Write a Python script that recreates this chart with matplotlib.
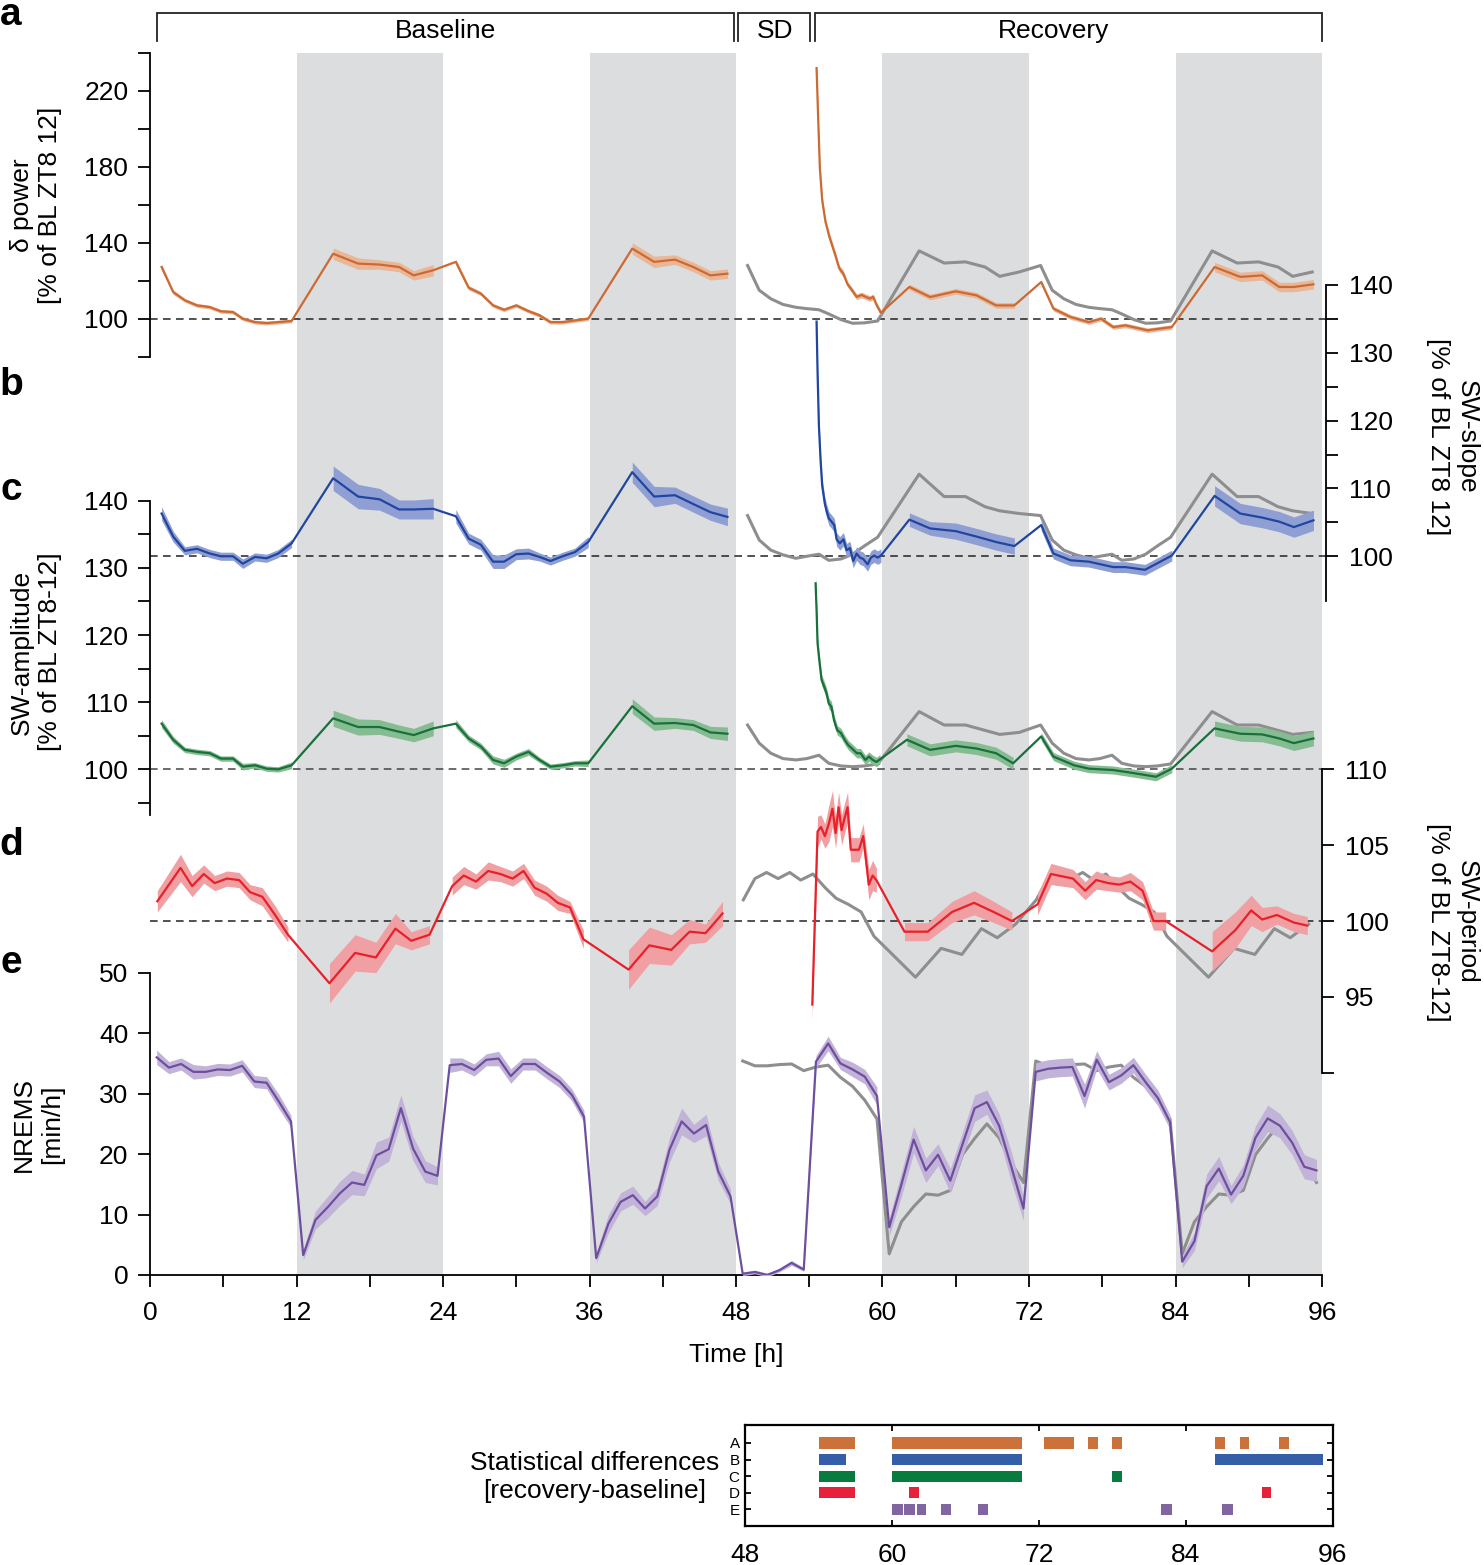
import matplotlib.pyplot as plt
import numpy as np

plt.rcParams['font.family'] = ['Liberation Sans', 'DejaVu Sans']

W, H = 1484, 1565

# ---------------- data ----------------
dark_phases = [(12, 24), (36, 48), (60, 72), (84, 96)]
periods = ['Baseline', 'SD', 'Recovery']
period_start = [0.6, 48.2, 54.5]
period_end = [47.8, 54.1, 96.0]
period_label_at = [24.2, 51.2, 74.0]

# baseline bins (delta power, SW-slope, SW-amplitude)
bl_hours = [0.95, 1.9, 2.85, 3.85, 4.9, 5.8, 6.8, 7.6, 8.6, 9.55, 10.5, 11.6,
            15.0, 17.05, 18.8, 20.4, 21.6, 23.2,
            25.05, 26.1, 27.1, 28.1, 29.0, 30.0, 31.0, 31.9, 32.8, 33.8, 34.8, 35.9,
            39.5, 41.3, 43.0, 44.5, 45.9, 47.3]

delta_bl = [127.2, 114.0, 109.7, 107.0, 106.1, 103.9, 103.5, 100.0, 98.2, 97.7, 98.2, 98.8,
            134.2, 129.0, 128.5, 127.2, 122.8, 125.5,
            129.9, 116.3, 113.2, 107.0, 104.7, 107.0, 104.0, 101.8, 98.2, 98.2, 99.1, 100.0,
            136.9, 129.9, 131.1, 127.2, 122.8, 123.7]
delta_bl_sem = [1.5, 1.2, 1.0, 1.0, 1.0, 1.0, 1.0, 1.0, 1.0, 1.0, 1.0, 1.0,
                3.0, 3.0, 2.5, 2.5, 2.5, 3.0,
                1.5, 1.2, 1.0, 1.0, 1.0, 1.0, 1.0, 1.0, 1.0, 1.0, 1.0, 1.0,
                3.0, 3.0, 2.5, 2.5, 2.5, 2.5]

slope_bl = [106.3, 102.9, 100.8, 101.1, 100.4, 100.0, 100.0, 98.9, 99.9, 99.7, 100.4, 101.9,
            111.5, 108.8, 108.4, 106.9, 106.9, 107.0,
            105.9, 102.6, 101.7, 99.2, 99.2, 100.3, 100.4, 99.9, 99.3, 100.0, 100.6, 102.1,
            112.4, 108.8, 109.0, 107.7, 106.5, 105.8]
slope_bl_sem = [1.0, 0.8, 0.6, 0.6, 0.6, 0.6, 0.6, 0.7, 0.6, 0.6, 0.6, 0.6,
                1.8, 1.8, 1.6, 1.4, 1.4, 1.5,
                1.0, 0.8, 0.8, 1.0, 1.0, 0.8, 0.8, 0.6, 0.6, 0.6, 0.6, 0.8,
                1.5, 1.5, 1.2, 1.2, 1.2, 1.3]

amp_bl = [106.8, 104.4, 102.9, 102.6, 102.4, 101.6, 101.6, 100.4, 100.6, 100.1, 100.0, 100.6,
          107.6, 106.3, 106.3, 105.6, 105.1, 106.1,
          106.8, 104.6, 103.4, 101.4, 100.9, 101.9, 102.6, 101.4, 100.4, 100.6, 100.9, 100.9,
          109.4, 106.8, 106.9, 106.6, 105.5, 105.3]
amp_bl_sem = [0.6, 0.5, 0.4, 0.4, 0.4, 0.4, 0.4, 0.5, 0.4, 0.4, 0.4, 0.5,
              1.2, 1.2, 1.1, 1.0, 1.0, 1.1,
              0.6, 0.5, 0.5, 0.6, 0.6, 0.5, 0.5, 0.4, 0.4, 0.4, 0.4, 0.5,
              1.1, 1.0, 0.8, 0.8, 0.9, 1.0]

# baseline mean 24-h profile (grey, replotted over the two recovery days)
delta_ref = [128.0, 115.0, 110.5, 107.5, 106.0, 105.3, 104.7, 102.5, 99.5, 97.6, 97.8, 98.8,
             135.7, 129.3, 129.9, 127.2, 122.3, 124.6]
slope_ref = [106.0, 102.4, 100.9, 100.2, 99.7, 100.0, 100.3, 99.4, 99.6, 100.3, 101.5, 102.8,
             112.1, 108.8, 108.8, 107.3, 106.7, 106.3]
amp_ref = [106.6, 103.9, 102.4, 101.6, 101.4, 101.6, 102.1, 100.9, 100.5, 100.4, 100.5, 100.8,
           108.6, 106.6, 106.6, 105.8, 105.2, 105.5]

# recovery (after SD)
delta_rec_h = [54.6, 54.74, 54.87, 55.06, 55.33, 55.63, 55.82, 56.1, 56.45, 56.78, 57.14, 57.47,
               57.88, 58.29, 58.62, 58.97, 59.24, 59.5, 59.87,
               62.2, 63.9, 66.0, 67.7, 69.3, 70.8,
               73.0, 74.0, 75.4, 76.9, 77.9, 78.9, 79.9, 81.7, 83.7,
               87.2, 89.3, 91.1, 92.5, 93.7, 95.3]
delta_rec = [231.9, 203.7, 179.2, 162.3, 151.0, 143.5, 139.7, 134.1, 126.6, 123.8, 118.1, 115.3,
             111.5, 112.5, 111.5, 110.6, 111.5, 107.4, 103.1,
             116.7, 111.4, 114.4, 112.3, 107.0, 107.0,
             119.3, 105.3, 100.9, 98.2, 100.0, 95.6, 96.5, 93.9, 95.6,
             127.2, 122.0, 122.8, 116.7, 116.7, 118.1]
delta_rec_sem = [3.0, 3.0, 2.5, 2.5, 2.0, 2.0, 2.0, 2.0, 1.8, 1.8, 1.5, 1.5,
                 1.5, 1.5, 1.5, 1.5, 1.5, 1.5, 1.5,
                 1.5, 1.5, 1.5, 1.5, 1.5, 1.5,
                 1.2, 1.2, 1.2, 1.2, 1.2, 1.2, 1.2, 1.2, 1.2,
                 2.5, 2.5, 2.5, 2.5, 2.5, 2.5]

slope_rec_h = [54.6, 54.68, 54.79, 54.93, 55.06, 55.28, 55.42, 55.6, 55.83, 56.05, 56.24, 56.5,
               56.8, 57.06, 57.33, 57.6, 57.88, 58.15, 58.42, 58.78, 59.05, 59.32, 59.6, 59.87,
               62.2, 63.9, 66.0, 67.7, 69.3, 70.8,
               73.0, 74.0, 75.4, 76.9, 77.9, 78.9, 79.9, 81.5, 83.7,
               87.2, 89.3, 91.1, 92.5, 93.7, 95.3]
slope_rec = [134.6, 127.2, 119.3, 114.1, 110.4, 107.7, 106.7, 105.6, 105.1, 104.6, 102.5, 101.9,
             102.5, 100.9, 101.2, 99.3, 100.4, 99.8, 99.6, 98.8, 99.8, 100.1, 99.8, 100.1,
             105.4, 104.1, 103.7, 102.9, 102.1, 101.5,
             104.6, 100.4, 99.4, 99.2, 98.8, 98.4, 98.4, 98.0, 100.1,
             108.9, 106.3, 105.7, 105.1, 104.3, 105.3]
slope_rec_sem = [1.5, 1.2, 1.0, 1.0, 1.0, 1.0, 1.0, 1.0, 1.0, 1.0, 1.0, 1.0,
                 1.0, 1.0, 1.0, 1.0, 1.0, 1.0, 1.0, 1.0, 1.0, 1.0, 1.0, 1.0,
                 1.0, 1.0, 1.2, 1.2, 1.2, 1.2,
                 0.8, 0.8, 0.8, 0.8, 0.8, 0.8, 0.8, 0.8, 0.8,
                 1.5, 1.5, 1.5, 1.5, 1.5, 1.5]

amp_rec_h = [54.52, 54.6, 54.68, 54.82, 55.01, 55.23, 55.42, 55.6, 55.82, 56.03, 56.3, 56.6,
             56.9, 57.2, 57.5, 57.9, 58.2, 58.6, 58.9, 59.2, 59.5, 59.8,
             62.0, 63.9, 66.0, 67.7, 69.3, 70.7,
             73.0, 74.0, 75.7, 76.9, 78.9, 80.7, 82.4, 83.7,
             87.2, 89.3, 91.1, 92.5, 93.7, 95.3]
amp_rec = [127.7, 123.7, 118.8, 116.3, 113.3, 112.3, 111.3, 109.8, 109.3, 107.3, 105.8, 105.4,
           104.4, 103.6, 103.1, 102.4, 102.4, 101.4, 101.9, 101.4, 101.1, 101.5,
           104.4, 102.9, 103.5, 103.1, 102.4, 100.9,
           104.9, 101.9, 100.6, 100.1, 99.9, 99.4, 98.9, 100.1,
           106.1, 105.3, 105.2, 104.6, 103.9, 104.6]
amp_rec_sem = [1.2, 1.0, 0.9, 0.9, 0.8, 0.8, 0.8, 0.8, 0.8, 0.8, 0.7, 0.7,
               0.7, 0.7, 0.7, 0.7, 0.7, 0.7, 0.7, 0.7, 0.7, 0.7,
               0.9, 0.9, 0.9, 0.9, 0.9, 0.9,
               0.6, 0.6, 0.6, 0.6, 0.6, 0.6, 0.6, 0.6,
               1.1, 1.1, 1.1, 1.1, 1.1, 1.1]

# SW-period
period_bl_h = [0.6, 1.55, 2.5, 3.45, 4.4, 5.3, 6.3, 7.3, 8.2, 9.2, 10.25, 11.3,
               14.7, 16.8, 18.5, 20.1, 21.4, 22.9,
               24.75, 25.7, 26.7, 27.7, 28.7, 29.7, 30.6, 31.5, 32.5, 33.4, 34.4, 35.5,
               39.2, 40.9, 42.7, 44.2, 45.5, 46.9]
period_bl = [101.3, 102.4, 103.5, 102.3, 103.1, 102.5, 102.8, 102.7, 101.9, 101.6, 100.4, 99.1,
             95.9, 97.9, 97.6, 99.5, 98.7, 99.1,
             102.3, 103.0, 102.6, 103.3, 103.1, 102.8, 103.3, 102.2, 101.8, 101.2, 100.9, 98.8,
             96.8, 98.4, 98.1, 99.3, 99.2, 100.5]
period_bl_sem = [0.7, 0.8, 0.9, 0.7, 0.6, 0.5, 0.5, 0.5, 0.5, 0.6, 0.6, 0.5,
                 1.3, 1.2, 1.0, 1.0, 0.6, 0.6,
                 0.6, 0.6, 0.5, 0.6, 0.5, 0.5, 0.5, 0.5, 0.5, 0.5, 0.4, 0.6,
                 1.3, 1.2, 1.0, 0.8, 0.6, 0.8]
period_ref = [101.4, 102.8, 103.2, 102.8, 103.2, 102.7, 103.1, 102.2, 101.5, 101.1, 100.6, 99.0,
              96.3, 98.2, 97.8, 99.5, 98.9, 99.8]

period_rec_h = [54.25, 54.68, 54.96, 55.28, 55.6, 55.9, 56.16, 56.4, 56.65, 56.9, 57.14, 57.4,
                57.74, 58.07, 58.42, 58.88, 59.19, 59.5,
                61.8, 63.7, 65.7, 67.5, 69.1, 70.6,
                72.7, 73.8, 75.6, 76.6, 77.5, 78.5, 79.4, 80.3, 81.3, 82.2, 83.2,
                87.0, 88.9, 90.2, 91.1, 92.3, 93.7, 94.8]
period_rec = [94.5, 105.9, 106.2, 105.6, 106.4, 107.4, 105.8, 107.5, 106.0, 106.8, 107.5, 104.7,
              104.7, 104.7, 105.6, 102.4, 103.0, 102.7,
              99.3, 99.3, 100.6, 101.2, 100.6, 100.0,
              101.1, 103.1, 102.8, 102.0, 102.7, 102.5, 102.4, 102.6, 102.0, 100.0, 100.0,
              98.0, 99.4, 100.7, 100.1, 100.4, 99.9, 99.7]
period_rec_sem = [1.0, 1.0, 0.8, 0.8, 1.2, 1.2, 1.0, 1.0, 1.0, 1.0, 1.0, 0.8,
                  0.8, 0.8, 0.8, 1.0, 1.0, 0.8,
                  0.6, 0.6, 0.7, 0.8, 0.7, 0.6,
                  0.7, 0.7, 0.6, 0.6, 0.6, 0.5, 0.5, 0.6, 0.6, 0.6, 0.6,
                  1.3, 1.2, 1.0, 0.8, 0.6, 0.6, 0.6]

# NREMS per hour, hours 0..95
nrems = [36.0, 34.3, 34.9, 33.6, 33.6, 34.0, 33.9, 34.6, 32.0, 31.8, 28.7, 25.4,
         3.3, 9.1, 11.2, 13.5, 15.3, 14.9, 19.8, 20.8, 27.6, 20.9, 17.1, 16.4,
         34.7, 34.9, 33.9, 35.6, 35.8, 32.9, 34.9, 34.9, 33.4, 32.0, 29.8, 26.2,
         2.8, 8.5, 12.1, 13.2, 11.0, 13.0, 20.7, 25.4, 23.4, 24.8, 17.1, 13.0,
         0.2, 0.5, 0.0, 0.8, 2.0, 0.9, 35.3, 38.3, 35.0, 34.0, 32.8, 29.6,
         7.9, 15.0, 22.4, 17.3, 19.9, 15.6, 21.6, 27.6, 28.6, 24.7, 17.9, 11.0,
         33.6, 34.1, 34.3, 34.4, 29.6, 35.6, 31.9, 33.0, 34.7, 31.9, 29.3, 25.3,
         2.2, 5.6, 14.7, 17.6, 13.3, 16.4, 22.7, 25.9, 24.7, 21.9, 17.9, 17.3]
nrems_sem = [1.2, 1.0, 1.0, 1.2, 1.0, 1.0, 1.0, 1.0, 1.0, 1.0, 1.2, 1.0,
             0.8, 1.5, 1.8, 2.0, 2.0, 1.8, 2.2, 2.0, 2.2, 2.0, 1.8, 1.5,
             1.2, 1.0, 1.0, 1.0, 1.2, 1.2, 1.0, 1.0, 1.0, 1.0, 1.0, 1.0,
             0.8, 1.5, 1.5, 1.5, 1.2, 1.5, 2.0, 2.2, 1.5, 1.8, 1.5, 1.2,
             0.3, 0.3, 0.3, 0.3, 0.4, 0.3, 1.0, 1.2, 1.0, 1.2, 1.2, 1.5,
             1.5, 2.0, 2.2, 2.0, 1.8, 2.0, 2.0, 2.2, 2.0, 2.0, 2.5, 2.0,
             1.5, 1.5, 1.5, 1.5, 2.0, 1.5, 1.3, 1.3, 1.3, 1.3, 1.3, 1.2,
             1.0, 1.5, 2.0, 2.0, 1.5, 1.8, 2.0, 2.2, 2.0, 2.0, 2.0, 1.8]
nrems_ref = [35.4, 34.6, 34.6, 34.8, 34.9, 33.8, 34.4, 34.7, 32.7, 31.2, 28.9, 25.8,
             3.5, 8.8, 11.3, 13.4, 13.2, 14.0, 19.9, 22.6, 25.0, 22.7, 18.5, 15.3]

# statistical differences (recovery vs baseline), start/end hours per row
stat_rows = ['A', 'B', 'C', 'D', 'E']
stat_A = [(54.0, 57.0), (60.0, 70.6), (72.4, 74.9), (76.0, 76.8), (78.0, 78.8),
          (86.4, 87.2), (88.4, 89.2), (91.6, 92.4)]
stat_B = [(54.0, 56.2), (60.0, 70.6), (86.4, 95.2)]
stat_C = [(54.0, 57.0), (60.0, 70.6), (78.0, 78.8)]
stat_D = [(54.0, 57.0), (61.4, 62.2), (90.2, 91.0)]
stat_E = [(60.0, 60.85), (61.0, 61.85), (62.0, 62.8), (64.0, 64.85), (67.0, 67.8),
          (82.0, 82.85), (87.0, 87.85)]

# ---------------- style ----------------
C_ORANGE, B_ORANGE = '#cc6a32', '#e9b797'
C_BLUE, B_BLUE = '#2146a0', '#8f9fd3'
C_GREEN, B_GREEN = '#18703a', '#86bc92'
C_RED, B_RED = '#e8202a', '#f0a0a2'
C_PURPLE, B_PURPLE = '#6e4f9e', '#c2b3d8'
C_GREY = '#8e8e8e'
SHADE = '#dcdddf'
STAT_COLORS = ['#cc7139', '#355ea9', '#087b3f', '#e8213a', '#8165a3']
FS = 19
TICK_LEN = 8.6


def add_ax(top, bottom, left=150, right=1322):
    a = fig.add_axes([left / W, 1 - bottom / H, (right - left) / W, (bottom - top) / H])
    a.patch.set_alpha(0)
    for s in a.spines.values():
        s.set_visible(False)
    a.set_xlim(0, 96)
    a.set_xticks([])
    a.set_yticks([])
    return a


def fxy(x, y):
    return x / W, 1 - y / H


def trace(ax, t, v, s, color, band, lw=1.6):
    t, v, s = np.asarray(t, float), np.asarray(v, float), np.asarray(s, float)
    block = np.floor(t / 12)
    start = 0
    for i in range(1, len(t) + 1):
        if i == len(t) or block[i] != block[start]:
            seg = slice(start, i)
            ax.fill_between(t[seg], v[seg] - s[seg], v[seg] + s[seg], color=band, lw=0, zorder=3)
            start = i
    ax.plot(t, v, color=color, lw=lw, zorder=4, solid_joinstyle='round')


def grey_ref(ax, hrs, ref):
    hrs = np.asarray(hrs, float)
    ax.plot(np.concatenate([hrs + 48, hrs + 72]), list(ref) + list(ref),
            color=C_GREY, lw=2.2, zorder=2)


def left_axis(ax, ticks, labels):
    ax.spines['left'].set_visible(True)
    ax.spines['left'].set_linewidth(1.3)
    ax.set_yticks(ticks)
    ax.set_yticklabels(labels, fontsize=FS)
    ax.tick_params(axis='y', direction='out', length=TICK_LEN, width=1.3, pad=7)


def right_axis(ax, ticks, labels, outward=0):
    ax.spines['right'].set_visible(True)
    ax.spines['right'].set_linewidth(1.3)
    ax.spines['right'].set_position(('outward', outward))
    ax.yaxis.tick_right()
    ax.set_yticks(ticks)
    ax.set_yticklabels(labels, fontsize=FS)
    ax.tick_params(axis='y', direction='out', length=TICK_LEN, width=1.3, pad=8)


def dashed(ax, y, color='#222222', xmax=1.004):
    ax.axhline(y, xmin=0.0, xmax=xmax, color=color, lw=1.1, dashes=(5, 3.5),
               zorder=1, clip_on=False)


fig = plt.figure(figsize=(W / 100, H / 100), dpi=100)

# dark phases
ax_shade = add_ax(52.7, 1275)
ax_shade.set_ylim(0, 1)
for a0, a1 in dark_phases:
    ax_shade.axvspan(a0, a1, color=SHADE, lw=0)

# period brackets
ax_top = add_ax(13.3, 40.7)
ax_top.set_ylim(0, 1)
for name, s0, s1, lx in zip(periods, period_start, period_end, period_label_at):
    ax_top.plot([s0, s0, s1, s1], [0, 1, 1, 0], color='#222222', lw=1.3,
                solid_joinstyle='miter', clip_on=False)
    ax_top.text(lx, 0.36, name, ha='center', va='center', fontsize=FS)

# a: delta power
ax_a = add_ax(52.7, 356.7)
ax_a.set_ylim(80, 240)
left_axis(ax_a, np.arange(80, 241, 20), ['', '100', '', '140', '', '180', '', '220', ''])
dashed(ax_a, 100)
grey_ref(ax_a, bl_hours[:18], delta_ref)
trace(ax_a, bl_hours, delta_bl, delta_bl_sem, C_ORANGE, B_ORANGE)
trace(ax_a, delta_rec_h, delta_rec, delta_rec_sem, C_ORANGE, B_ORANGE)

# b: SW-slope (right axis)
ax_b = add_ax(285, 601)
ax_b.set_ylim(93.4, 140)
right_axis(ax_b, np.arange(100, 141, 5),
           ['100', '', '110', '', '120', '', '130', '', '140'], outward=2.9)
dashed(ax_b, 100)
grey_ref(ax_b, bl_hours[:18], slope_ref)
trace(ax_b, bl_hours, slope_bl, slope_bl_sem, C_BLUE, B_BLUE)
trace(ax_b, slope_rec_h, slope_rec, slope_rec_sem, C_BLUE, B_BLUE)

# c: SW-amplitude
ax_c = add_ax(500.7, 815)
ax_c.set_ylim(93.2, 140)
left_axis(ax_c, np.arange(95, 141, 5),
          ['', '100', '', '110', '', '120', '', '130', '', '140'])
dashed(ax_c, 100, color='#444444', xmax=1.0)
grey_ref(ax_c, bl_hours[:18], amp_ref)
trace(ax_c, bl_hours, amp_bl, amp_bl_sem, C_GREEN, B_GREEN)
trace(ax_c, amp_rec_h, amp_rec, amp_rec_sem, C_GREEN, B_GREEN)

# d: SW-period (right axis)
ax_d = add_ax(769.3, 1072.8)
ax_d.set_ylim(90, 110)
right_axis(ax_d, [90, 95, 100, 105, 110], ['', '95', '100', '105', '110'])
dashed(ax_d, 100, xmax=1.0)
grey_ref(ax_d, period_bl_h[:18], period_ref)
trace(ax_d, period_bl_h, period_bl, period_bl_sem, C_RED, B_RED)
trace(ax_d, period_rec_h, period_rec, period_rec_sem, C_RED, B_RED)

# e: NREMS
ax_e = add_ax(972.7, 1275)
ax_e.set_ylim(0, 50)
left_axis(ax_e, np.arange(0, 51, 10), [str(v) for v in range(0, 51, 10)])
ax_e.spines['bottom'].set_visible(True)
ax_e.spines['bottom'].set_linewidth(1.3)
ax_e.set_xticks(np.arange(0, 97, 6))
ax_e.set_xticklabels([str(v) if v % 12 == 0 else '' for v in range(0, 97, 6)], fontsize=FS)
ax_e.tick_params(axis='x', direction='out', length=TICK_LEN, width=1.3, pad=10)
nrems_h = np.arange(len(nrems)) + 0.55
ax_e.plot(np.concatenate([nrems_h[:24] + 48, nrems_h[:24] + 72]), nrems_ref + nrems_ref,
          color=C_GREY, lw=2.2, zorder=2)
trace(ax_e, nrems_h, nrems, nrems_sem, C_PURPLE, B_PURPLE)

# axis titles
fig.text(*fxy(736, 1355), 'Time [h]', ha='center', va='center', fontsize=FS)
fig.text(*fxy(36, 205), 'δ power\n[% of BL ZT8 12]', rotation=90, ha='center',
         va='center', fontsize=FS, linespacing=1.25)
fig.text(*fxy(36, 652), 'SW-amplitude\n[% of BL ZT8-12]', rotation=90, ha='center',
         va='center', fontsize=FS, linespacing=1.25)
fig.text(*fxy(38, 1124), 'NREMS\n[min/h]', rotation=90, ha='center',
         va='center', fontsize=FS, linespacing=1.25)
fig.text(*fxy(1452, 437), 'SW-slope\n[% of BL ZT8 12]', rotation=270, ha='center',
         va='center', fontsize=FS, linespacing=1.25)
fig.text(*fxy(1452, 922), 'SW-period\n[% of BL ZT8-12]', rotation=270, ha='center',
         va='center', fontsize=FS, linespacing=1.25)

for letter, y in zip('abcde', [15, 385, 490, 845, 963]):
    fig.text(*fxy(11, y), letter, ha='center', va='center', fontsize=28, fontweight='bold')

# statistics strip
ax_s = fig.add_axes([745.3 / W, 1 - 1526 / H, (1332.6 - 745.3) / W, (1526 - 1425) / H])
ax_s.set_xlim(48, 96)
ax_s.set_ylim(6.0, -0.08)
for i, (rows, col) in enumerate(zip([stat_A, stat_B, stat_C, stat_D, stat_E], STAT_COLORS)):
    ax_s.barh([i + 1] * len(rows), [e - s for s, e in rows], left=[s for s, e in rows],
              height=0.68, color=col, lw=0)
ax_s.set_yticks(range(1, 6))
ax_s.set_yticklabels(stat_rows, fontsize=11)
ax_s.set_xticks([48, 60, 72, 84, 96])
ax_s.set_xticklabels(['48', '60', '72', '84', '96'], fontsize=FS)
ax_s.tick_params(axis='both', direction='in', length=4, width=1.3, top=True, right=True)
ax_s.tick_params(axis='x', pad=12)
ax_s.tick_params(axis='y', pad=4)
for s in ax_s.spines.values():
    s.set_linewidth(1.6)
fig.text(*fxy(595, 1477), 'Statistical differences\n[recovery-baseline]', ha='center',
         va='center', fontsize=FS, linespacing=1.25)

fig.savefig('out.png', dpi=100)
